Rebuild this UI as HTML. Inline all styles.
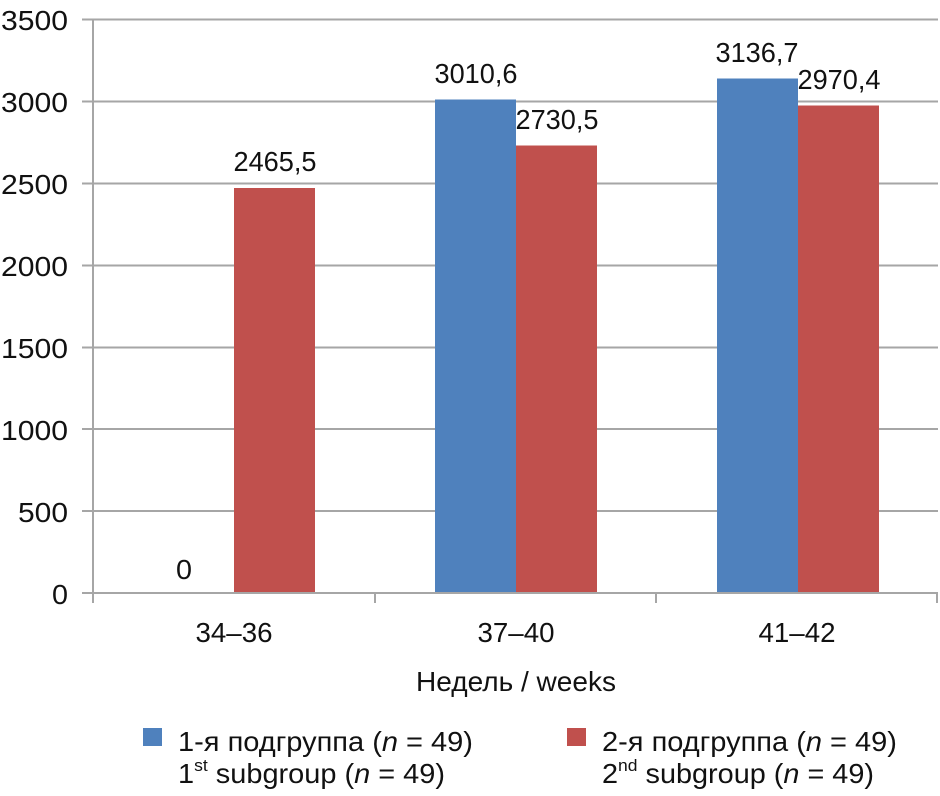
<!DOCTYPE html>
<html><head><meta charset="utf-8"><style>
html,body{margin:0;padding:0;background:#fff;}
svg text{font-family:"Liberation Sans Narrow","Liberation Sans",sans-serif;font-size:28px;fill:#111;}
</style></head><body>
<svg width="940" height="791" viewBox="0 0 940 791" xmlns="http://www.w3.org/2000/svg">
<g stroke="#a6a6a6" stroke-width="2">
<line x1="82" y1="19.5" x2="938" y2="19.5"/>
<line x1="82" y1="101.5" x2="938" y2="101.5"/>
<line x1="82" y1="183.5" x2="938" y2="183.5"/>
<line x1="82" y1="265.5" x2="938" y2="265.5"/>
<line x1="82" y1="347.5" x2="938" y2="347.5"/>
<line x1="82" y1="429" x2="938" y2="429"/>
<line x1="82" y1="511" x2="938" y2="511"/>
<line x1="93" y1="19" x2="93" y2="603"/>
</g>
<rect x="234" y="188" width="81" height="405" fill="#C0504D"/>
<rect x="435" y="99.5" width="81" height="493.5" fill="#4F81BD"/>
<rect x="516" y="145.5" width="81" height="447.5" fill="#C0504D"/>
<rect x="717" y="78.5" width="81" height="514.5" fill="#4F81BD"/>
<rect x="798" y="105.5" width="81" height="487.5" fill="#C0504D"/>
<g stroke="#a6a6a6" stroke-width="2">
<line x1="82" y1="593" x2="938" y2="593"/>
<line x1="375" y1="593" x2="375" y2="603"/>
<line x1="656" y1="593" x2="656" y2="603"/>
<line x1="937" y1="593" x2="937" y2="603"/>
</g>
<g text-anchor="end" lengthAdjust="spacingAndGlyphs">
<text x="68" y="30" textLength="67" lengthAdjust="spacingAndGlyphs">3500</text>
<text x="68" y="112" textLength="67" lengthAdjust="spacingAndGlyphs">3000</text>
<text x="68" y="194" textLength="67" lengthAdjust="spacingAndGlyphs">2500</text>
<text x="68" y="276" textLength="67" lengthAdjust="spacingAndGlyphs">2000</text>
<text x="68" y="358" textLength="67" lengthAdjust="spacingAndGlyphs">1500</text>
<text x="68" y="440" textLength="67" lengthAdjust="spacingAndGlyphs">1000</text>
<text x="68" y="522" textLength="50" lengthAdjust="spacingAndGlyphs">500</text>
<text x="68" y="604" textLength="16" lengthAdjust="spacingAndGlyphs">0</text>
</g>
<g text-anchor="middle">
<text x="184" y="579" textLength="16" lengthAdjust="spacingAndGlyphs">0</text>
<text x="275" y="171" textLength="83" lengthAdjust="spacingAndGlyphs">2465,5</text>
<text x="476" y="83" textLength="83" lengthAdjust="spacingAndGlyphs">3010,6</text>
<text x="557" y="129" textLength="83" lengthAdjust="spacingAndGlyphs">2730,5</text>
<text x="757" y="62" textLength="83" lengthAdjust="spacingAndGlyphs">3136,7</text>
<text x="839" y="89" textLength="83" lengthAdjust="spacingAndGlyphs">2970,4</text>
<text x="234" y="642" textLength="77" lengthAdjust="spacingAndGlyphs">34–36</text>
<text x="516" y="642" textLength="77" lengthAdjust="spacingAndGlyphs">37–40</text>
<text x="797" y="642" textLength="77" lengthAdjust="spacingAndGlyphs">41–42</text>
<text x="516" y="691" textLength="200" lengthAdjust="spacingAndGlyphs">Недель / weeks</text>
</g>
<rect x="143" y="728" width="19" height="18" fill="#4F81BD"/>
<rect x="567" y="728" width="19" height="18" fill="#C0504D"/>
<text x="178" y="751" textLength="295" lengthAdjust="spacingAndGlyphs">1-я подгруппа (<tspan font-style="italic">n</tspan> = 49)</text>
<text x="178" y="783" textLength="267" lengthAdjust="spacingAndGlyphs">1<tspan font-size="17" dy="-12">st</tspan><tspan dy="12"> subgroup (</tspan><tspan font-style="italic">n</tspan> = 49)</text>
<text x="602" y="751" textLength="295" lengthAdjust="spacingAndGlyphs">2-я подгруппа (<tspan font-style="italic">n</tspan> = 49)</text>
<text x="602" y="783" textLength="272" lengthAdjust="spacingAndGlyphs">2<tspan font-size="17" dy="-12">nd</tspan><tspan dy="12"> subgroup (</tspan><tspan font-style="italic">n</tspan> = 49)</text>
</svg>
</body></html>
